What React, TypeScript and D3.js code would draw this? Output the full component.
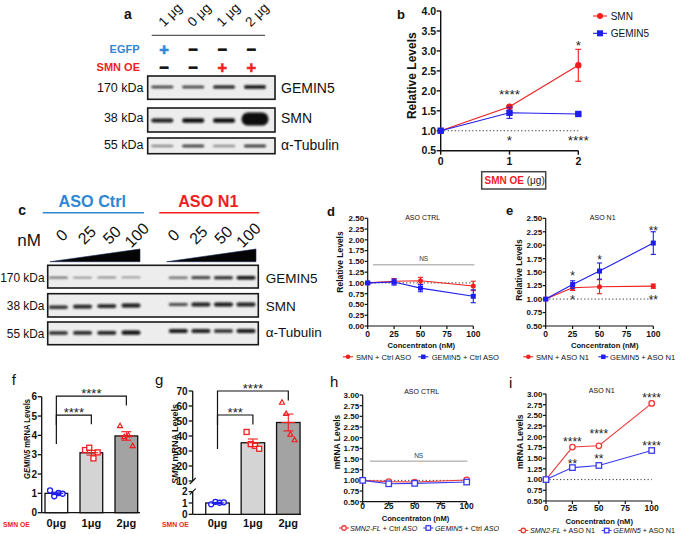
import React from "react";
import * as d3 from "d3";

const FONT = "'Liberation Sans', Arial, Helvetica, sans-serif";
const RED = "#f01e1e";
const BLUE = "#1e1ef0";
const SKY = "#2f86d3";

// ---------------- Panel a (western blot) ----------------
const aLaneLabels = ["1 μg", "0 μg", "1 μg", "2 μg"];
const aEGFP = ["+", "−", "−", "−"];
const aSMNOE = ["−", "−", "+", "+"];
const aRows = ["GEMIN5", "SMN", "α-Tubulin"];
const aKDa = ["170 kDa", "38 kDa", "55 kDa"];
const aGemin5Band = [0.75, 0.75, 0.95, 1.0];
const aSmnBand = [0.9, 1.0, 1.0, 3.0];
const aTubulinBand = [0.55, 0.8, 0.5, 0.85];

// ---------------- Panel b ----------------
const bDose = [0, 1, 2];
const bSMN = [1.0, 1.6, 2.64];
const bSMNErr = [0.02, 0.03, 0.4];
const bGEMIN5 = [1.0, 1.45, 1.42];
const bGEMIN5Err = [0.02, 0.14, 0.03];
const bYTicks = [0.5, 1.0, 1.5, 2.0, 2.5, 3.0, 3.5, 4.0];
const bStars = [
  { x: 1, v: 2.01, t: "****" },
  { x: 1, v: 0.85, t: "*" },
  { x: 2, v: 3.23, t: "*" },
  { x: 2, v: 0.85, t: "****" },
];

// ---------------- Panel c (western blot) ----------------
const cConc = ["0", "25", "50", "100"];
const cRows = ["GEMIN5", "SMN", "α-Tubulin"];
const cKDa = ["170 kDa", "38 kDa", "55 kDa"];
const cGemin5Ctrl = [0.55, 0.45, 0.42, 0.42];
const cGemin5N1 = [0.6, 0.85, 0.95, 1.1];
const cSmnCtrl = [0.85, 0.95, 0.95, 1.0];
const cSmnN1 = [0.7, 0.95, 1.0, 0.95];
const cTubCtrl = [0.9, 0.9, 0.95, 1.05];
const cTubN1 = [1.0, 0.95, 0.9, 1.0];

// ---------------- Panel d ----------------
const conc = [0, 25, 50, 100];
const concTicks = [0, 25, 50, 75, 100];
const dSMN = [1.0, 1.04, 1.05, 0.93];
const dSMNErr = [0.02, 0.06, 0.08, 0.11];
const dGEMIN5 = [1.0, 1.02, 0.88, 0.69];
const dGEMIN5Err = [0.02, 0.07, 0.085, 0.15];

// ---------------- Panel e ----------------
const eSMN = [1.0, 1.21, 1.23, 1.24];
const eSMNErr = [0.02, 0.05, 0.13, 0.04];
const eGEMIN5 = [1.0, 1.27, 1.52, 2.04];
const eGEMIN5Err = [0.02, 0.07, 0.15, 0.21];
const eStars = [
  { x: 25, v: 1.49, t: "*" },
  { x: 25, v: 1.04, t: "*" },
  { x: 50, v: 1.79, t: "*" },
  { x: 100, v: 2.33, t: "**" },
  { x: 100, v: 1.04, t: "**" },
];

// ---------------- Panel f ----------------
const doseGroups = ["0μg", "1μg", "2μg"];
const fMeans = [1.0, 3.1, 3.97];
const fSEM = [0.06, 0.12, 0.22];
const fPts0 = [1.15, 0.85, 1.02, 0.98];
const fPts1 = [3.24, 3.36, 2.81, 3.12];
const fPts2 = [4.5, 3.93, 4.02, 3.47];
const fYTicks = [0, 1, 2, 3, 4, 5, 6];
const fBrackets = [
  { from: 0, to: 1, v: 5.05, t: "****" },
  { from: 0, to: 2, v: 6.03, t: "****" },
];

// ---------------- Panel g ----------------
const gMeans = [1.0, 35.5, 49.0];
const gSEM = [0.05, 2.5, 5.6];
const gPts0 = [0.88, 1.1, 1.02, 1.06];
const gPts1 = [42.7, 34.6, 33.5, 31.5];
const gPts2 = [62.5, 55.0, 41.3, 37.5];
const gYTicksUpper = [10, 20, 30, 40, 50, 60, 70];
const gYTicksLower = [0, 1, 2];
const gBrackets = [
  { from: 0, to: 1, v: 54, t: "***" },
  { from: 0, to: 2, v: 70, t: "****" },
];

// ---------------- Panel h ----------------
const hSMN2 = [1.0, 0.97, 0.96, 1.01];
const hSMN2Err = [0.02, 0.03, 0.02, 0.04];
const hGEMIN5 = [1.0, 0.92, 0.93, 0.96];
const hGEMIN5Err = [0.02, 0.02, 0.02, 0.02];

// ---------------- Panel i ----------------
const iSMN2 = [1.0, 1.76, 1.79, 2.78];
const iSMN2Err = [0.02, 0.03, 0.03, 0.05];
const iGEMIN5 = [1.0, 1.28, 1.33, 1.68];
const iGEMIN5Err = [0.02, 0.02, 0.03, 0.02];
const iStars = [
  { x: 25, v: 1.96, t: "****" },
  { x: 25, v: 1.43, t: "**" },
  { x: 50, v: 2.14, t: "****" },
  { x: 50, v: 1.55, t: "**" },
  { x: 100, v: 2.98, t: "****" },
  { x: 100, v: 1.86, t: "****" },
];

const tick025 = d3.range(0, 2.501, 0.25);
const tick050 = d3.range(0.5, 2.501, 0.25);
const tick0530 = d3.range(0.5, 3.001, 0.25);

// ---------- helpers ----------
function Marker({ kind, cx, cy, color, size }: any) {
  const h = size / 2;
  if (kind === "circle") return <circle cx={cx} cy={cy} r={h} fill={color} />;
  if (kind === "square")
    return <rect x={cx - h} y={cy - h} width={size} height={size} fill={color} />;
  if (kind === "ocircle")
    return <circle cx={cx} cy={cy} r={h} fill="white" stroke={color} strokeWidth={1.3} />;
  if (kind === "osquare")
    return (
      <rect x={cx - h} y={cy - h} width={size} height={size} fill="white" stroke={color} strokeWidth={1.3} />
    );
  return (
    <path
      d={`M${cx},${cy - h}L${cx + h},${cy + h * 0.8}L${cx - h},${cy + h * 0.8}Z`}
      fill="none"
      stroke={color}
      strokeWidth={1.2}
    />
  );
}

function Star({ x, cy, t, fs = 13 }: any) {
  return (
    <text x={x} y={cy + fs * 0.6} fontSize={fs} textAnchor="middle" fill="#222">
      {t}
    </text>
  );
}

function LineChart({ c }: any) {
  const { x, y } = c;
  const [ymin, ymax] = y.domain();
  const [xmin, xmax] = x.domain();
  const tl = c.tickLen;
  return (
    <g fontFamily={FONT}>
      {c.dotted && (
        <line x1={x(xmin)} x2={x(xmax)} y1={y(1)} y2={y(1)} stroke="#333" strokeWidth={1} strokeDasharray="1.2 2.3" />
      )}
      {c.ns && (
        <g>
          <line x1={x(c.ns.x0)} x2={x(c.ns.x1)} y1={y(c.ns.v)} y2={y(c.ns.v)} stroke="#999" strokeWidth={1} />
          <text x={(x(c.ns.x0) + x(c.ns.x1)) / 2} y={y(c.ns.v) - 3.5} fontSize={6.5} textAnchor="middle" fill="#333">
            NS
          </text>
        </g>
      )}
      <line x1={x(xmin)} x2={x(xmin)} y1={y(ymin)} y2={y(ymax)} stroke="#111" strokeWidth={c.axW} />
      <line x1={x(xmin)} x2={x(xmax)} y1={y(ymin)} y2={y(ymin)} stroke="#111" strokeWidth={c.axW} />
      {c.yTicks.map((t: number, i: number) => (
        <g key={"yt" + i}>
          <line x1={x(xmin) - tl} x2={x(xmin)} y1={y(t)} y2={y(t)} stroke="#111" strokeWidth={c.axW} />
          <text x={x(xmin) - tl - 0.5} y={y(t) + c.fs * 0.36} fontSize={c.fs} fontWeight="bold" textAnchor="end" fill="#111">
            {c.yFmt(t)}
          </text>
        </g>
      ))}
      {c.xTicks.map((t: number, i: number) => (
        <g key={"xt" + i}>
          <line x1={x(t)} x2={x(t)} y1={y(ymin)} y2={y(ymin) + tl} stroke="#111" strokeWidth={c.axW} />
          <text x={x(t)} y={c.xLabY} fontSize={c.xfs || c.fs} fontWeight="bold" textAnchor="middle" fill="#111">
            {t}
          </text>
        </g>
      ))}
      {c.series.map((s: any, si: number) => (
        <g key={"s" + si}>
          <path
            d={d3.line<number>().x((_, i) => x(c.xs[i])).y((v) => y(v))(s.values) || ""}
            fill="none"
            stroke={s.color}
            strokeWidth={1.1}
          />
          {s.values.map((v: number, i: number) => (
            <g key={i} stroke={s.color} strokeWidth={1.1}>
              <line x1={x(c.xs[i])} x2={x(c.xs[i])} y1={y(v - s.errs[i])} y2={y(v + s.errs[i])} />
              <line x1={x(c.xs[i]) - c.cap} x2={x(c.xs[i]) + c.cap} y1={y(v - s.errs[i])} y2={y(v - s.errs[i])} />
              <line x1={x(c.xs[i]) - c.cap} x2={x(c.xs[i]) + c.cap} y1={y(v + s.errs[i])} y2={y(v + s.errs[i])} />
            </g>
          ))}
          {s.values.map((v: number, i: number) => (
            <Marker key={"m" + i} kind={s.marker} cx={x(c.xs[i])} cy={y(v)} color={s.color} size={s.size} />
          ))}
        </g>
      ))}
      {(c.stars || []).map((s: any, i: number) => (
        <Star key={"st" + i} x={x(s.x)} cy={y(s.v)} t={s.t} fs={c.starFs || 13} />
      ))}
      {c.title && (
        <text x={c.title.x} y={c.title.y} fontSize={7} textAnchor="middle" fill="#111">
          {c.title.t}
        </text>
      )}
      <text
        transform={`translate(${c.yTitle.x},${c.yTitle.y}) rotate(-90)`}
        fontSize={c.yTitle.fs}
        fontWeight="bold"
        textAnchor="middle"
        fill="#111"
      >
        {c.yTitle.t}
      </text>
      {c.xTitle && (
        <text x={c.xTitle.x} y={c.xTitle.y} fontSize={c.xTitle.fs} fontWeight="bold" textAnchor="middle" fill="#111">
          {c.xTitle.t}
        </text>
      )}
      {(c.legend || []).map((l: any, i: number) => (
        <g key={"lg" + i}>
          <line x1={l.mx - l.lw} x2={l.mx + l.lw} y1={l.my} y2={l.my} stroke={l.color} strokeWidth={1.1} />
          <Marker kind={l.marker} cx={l.mx} cy={l.my} color={l.color} size={l.size} />
          <text x={l.tx} y={l.ty} fontSize={l.fs} fill="#111">
            {l.content}
          </text>
        </g>
      ))}
    </g>
  );
}

function Band({ cx, cy, w, h, op }: any) {
  return (
    <rect
      x={cx - w / 2}
      y={cy - h / 2}
      width={w}
      height={h}
      rx={Math.min(h / 2, w / 2)}
      fill="#0a0a0a"
      opacity={op}
      filter="url(#bandBlur)"
    />
  );
}

function BarPanel({ p }: any) {
  const { xc, yv, bw } = p;
  return (
    <g fontFamily={FONT}>
      {p.means.map((m: number, i: number) => (
        <rect
          key={"b" + i}
          x={xc(p.groups[i]) - bw / 2}
          y={yv(m)}
          width={bw}
          height={yv(0) - yv(m)}
          fill={p.fills[i]}
          stroke="#111"
          strokeWidth={1.3}
        />
      ))}
      {p.pts.map((arr: number[], gi: number) =>
        arr.map((v: number, k: number) => (
          <Marker
            key={"p" + gi + "_" + k}
            kind={p.ptKinds[gi]}
            cx={xc(p.groups[gi]) + (k - (arr.length - 1) / 2) * 4.2}
            cy={yv(v)}
            color={p.ptColors[gi]}
            size={p.ptSize}
          />
        ))
      )}
      {p.means.map((m: number, i: number) => (
        <g key={"e" + i} stroke={p.ptColors[i]} strokeWidth={1.1}>
          <line x1={xc(p.groups[i])} x2={xc(p.groups[i])} y1={yv(m - p.sem[i])} y2={yv(m + p.sem[i])} />
          <line x1={xc(p.groups[i]) - 5} x2={xc(p.groups[i]) + 5} y1={yv(m + p.sem[i])} y2={yv(m + p.sem[i])} />
          <line x1={xc(p.groups[i]) - 5} x2={xc(p.groups[i]) + 5} y1={yv(m - p.sem[i])} y2={yv(m - p.sem[i])} />
          <line x1={xc(p.groups[i]) - 7} x2={xc(p.groups[i]) + 7} y1={yv(m)} y2={yv(m)} />
        </g>
      ))}
      {p.brackets.map((b: any, i: number) => {
        const x0 = xc(p.groups[b.from]);
        const x1 = xc(p.groups[b.to]);
        const yy = yv(b.v);
        return (
          <g key={"br" + i}>
            <path
              d={`M${x0},${yy + p.leftDrop}V${yy}H${x1}V${yy + p.rightDrop}`}
              fill="none"
              stroke="#111"
              strokeWidth={1.2}
            />
            <Star x={(x0 + x1) / 2} cy={yy - 5.5} t={b.t} fs={13} />
          </g>
        );
      })}
      {p.groups.map((g: string, i: number) => (
        <text key={"xl" + i} x={xc(g)} y={p.xLabY} fontSize={11} fontWeight="bold" textAnchor="middle" fill="#111">
          {g}
        </text>
      ))}
      <text x={p.oeX} y={p.xLabY} fontSize={6.8} fontWeight="bold" fill={RED}>
        SMN OE
      </text>
    </g>
  );
}

export default function App() {
  // ---------- panel a ----------
  const aLane = d3.scalePoint<number>().domain(d3.range(4)).range([162.3, 255]);
  const aLabelX = d3.scalePoint<number>().domain(d3.range(4)).range([170, 256.7]);
  const aSignX = d3.scalePoint<number>().domain(d3.range(4)).range([164, 251.3]);
  const aRowGeo = [
    { y0: 76, y1: 99.3, by: 87, base: 3.4, vals: aGemin5Band },
    { y0: 108, y1: 132, by: 120.5, base: 4.4, vals: aSmnBand },
    { y0: 138, y1: 153.7, by: 146, base: 3.0, vals: aTubulinBand },
  ];
  const aLabelBase = [92.3, 121.7, 149];
  const aRightBase = [92.7, 122.7, 150];

  // ---------- panel b ----------
  const bx = d3.scaleLinear().domain([0, 2]).range([440.7, 578.3]);
  const by = d3.scaleLinear().domain([0.5, 4]).range([150.7, 11]);

  // ---------- panel c ----------
  const cLaneCtrl = d3.scalePoint<number>().domain(d3.range(4)).range([58.3, 131]);
  const cLaneN1 = d3.scalePoint<number>().domain(d3.range(4)).range([178.3, 246]);
  const cLabCtrl = d3.scalePoint<number>().domain(d3.range(4)).range([61.7, 136.7]);
  const cLabN1 = d3.scalePoint<number>().domain(d3.range(4)).range([173.3, 248.3]);
  const cRowGeo = [
    { y0: 265.3, y1: 288, byC: 277.7, byN: 277.7, base: 3.2, ctrl: cGemin5Ctrl, n1: cGemin5N1 },
    { y0: 293.7, y1: 317, byC: 307.3, byN: 304.5, base: 4.0, ctrl: cSmnCtrl, n1: cSmnN1 },
    { y0: 322, y1: 344.7, byC: 333, byN: 331, base: 4.0, ctrl: cTubCtrl, n1: cTubN1 },
  ];
  const cLabelBase = [282.3, 310, 337.7];
  const cRightBase = [283.3, 310.7, 336.7];

  // ---------- panels d, e, h, i ----------
  const fmt2 = (v: number) => v.toFixed(2);
  const dCfg = {
    x: d3.scaleLinear().domain([0, 100]).range([367.7, 473.3]),
    y: d3.scaleLinear().domain([0, 2.5]).range([326, 218.3]),
    xs: conc,
    yTicks: tick025,
    yFmt: fmt2,
    xTicks: concTicks,
    fs: 8,
    xfs: 8.5,
    xLabY: 336.7,
    tickLen: 3,
    axW: 1.2,
    cap: 2.6,
    dotted: true,
    ns: { x0: 5, x1: 101, v: 1.42 },
    series: [
      { values: dSMN, errs: dSMNErr, color: RED, marker: "circle", size: 5 },
      { values: dGEMIN5, errs: dGEMIN5Err, color: BLUE, marker: "square", size: 5 },
    ],
    title: { t: "ASO CTRL", x: 422.7, y: 220 },
    yTitle: { t: "Relative Levels", x: 343, y: 262, fs: 8.5 },
    xTitle: { t: "Concentraton (nM)", x: 421.3, y: 348, fs: 7.6 },
    legend: [
      { mx: 348, my: 356.8, lw: 5, color: RED, marker: "circle", size: 4.5, tx: 356, ty: 359.5, fs: 7.6, content: "SMN + Ctrl ASO" },
      { mx: 423.3, my: 356.8, lw: 5, color: BLUE, marker: "square", size: 4.5, tx: 431.7, ty: 359.5, fs: 7.6, content: "GEMIN5 + Ctrl ASO" },
    ],
  };
  const eCfg = {
    ...dCfg,
    x: d3.scaleLinear().domain([0, 100]).range([545.7, 653.3]),
    y: d3.scaleLinear().domain([0.5, 2.5]).range([326, 218.3]),
    yTicks: tick050,
    ns: null,
    series: [
      { values: eSMN, errs: eSMNErr, color: RED, marker: "circle", size: 5 },
      { values: eGEMIN5, errs: eGEMIN5Err, color: BLUE, marker: "square", size: 5 },
    ],
    stars: eStars,
    starFs: 12,
    title: { t: "ASO N1", x: 602.7, y: 220 },
    yTitle: { t: "Relative Levels", x: 522, y: 270, fs: 8.5 },
    xTitle: { t: "Concentraton (nM)", x: 604.7, y: 348, fs: 7.6 },
    legend: [
      { mx: 528.3, my: 356.8, lw: 5, color: RED, marker: "circle", size: 4.5, tx: 536, ty: 359.5, fs: 7.6, content: "SMN + ASO N1" },
      { mx: 603.3, my: 356.8, lw: 5, color: BLUE, marker: "square", size: 4.5, tx: 610, ty: 359.5, fs: 7.6, content: "GEMIN5 + ASO N1" },
    ],
  };
  const LRED = "#f03a3a";
  const LBLUE = "#3a3af0";
  const hCfg = {
    x: d3.scaleLinear().domain([0, 100]).range([362.7, 466.7]),
    y: d3.scaleLinear().domain([0.5, 3]).range([501.7, 395]),
    xs: conc,
    yTicks: tick0530,
    yFmt: fmt2,
    xTicks: concTicks,
    fs: 8,
    xfs: 8.5,
    xLabY: 509,
    tickLen: 3,
    axW: 1.2,
    cap: 2.6,
    dotted: true,
    ns: { x0: 7, x1: 100.6, v: 1.45 },
    series: [
      { values: hSMN2, errs: hSMN2Err, color: LRED, marker: "ocircle", size: 5.5 },
      { values: hGEMIN5, errs: hGEMIN5Err, color: LBLUE, marker: "osquare", size: 5.5 },
    ],
    title: { t: "ASO CTRL", x: 421.7, y: 394 },
    yTitle: { t: "mRNA Levels", x: 339.5, y: 442, fs: 8.5 },
    xTitle: { t: "Concentraton (nM)", x: 415.5, y: 521, fs: 7.6 },
    legend: [
      {
        mx: 344, my: 528, lw: 5, color: LRED, marker: "ocircle", size: 4.5, tx: 350, ty: 530.5, fs: 7.2,
        content: (<><tspan fontStyle="italic">SMN2-FL</tspan> + Ctrl <tspan fontStyle="italic">ASO</tspan></>),
      },
      {
        mx: 428.3, my: 528, lw: 5, color: LBLUE, marker: "osquare", size: 4.5, tx: 435, ty: 530.5, fs: 7.2,
        content: (<><tspan fontStyle="italic">GEMIN5</tspan> + Ctrl <tspan fontStyle="italic">ASO</tspan></>),
      },
    ],
  };
  const iCfg = {
    ...hCfg,
    x: d3.scaleLinear().domain([0, 100]).range([546, 651.7]),
    y: d3.scaleLinear().domain([0.5, 3]).range([501, 394]),
    xLabY: 511,
    ns: null,
    series: [
      { values: iSMN2, errs: iSMN2Err, color: LRED, marker: "ocircle", size: 5.5 },
      { values: iGEMIN5, errs: iGEMIN5Err, color: LBLUE, marker: "osquare", size: 5.5 },
    ],
    stars: iStars,
    starFs: 12,
    title: { t: "ASO N1", x: 601.7, y: 393.3 },
    yTitle: { t: "mRNA Levels", x: 523, y: 441.7, fs: 8.5 },
    xTitle: { t: "Concentraton (nM)", x: 599.2, y: 524, fs: 7.6 },
    legend: [
      {
        mx: 523.3, my: 530.5, lw: 5, color: LRED, marker: "ocircle", size: 4.5, tx: 530, ty: 533, fs: 7.2,
        content: (<><tspan fontStyle="italic">SMN2-FL</tspan> + ASO N1</>),
      },
      {
        mx: 606.7, my: 530.5, lw: 5, color: LBLUE, marker: "osquare", size: 4.5, tx: 613.3, ty: 533, fs: 7.2,
        content: (<><tspan fontStyle="italic">GEMIN5</tspan> + ASO N1</>),
      },
    ],
  };

  // ---------- panel f ----------
  const fx = d3.scalePoint<string>().domain(doseGroups).range([56.35, 126.35]);
  const fy = d3.scaleLinear().domain([0, 6]).range([512.7, 396.7]);
  const fP = {
    xc: fx, yv: fy, bw: 22.7, groups: doseGroups, means: fMeans, sem: fSEM,
    fills: ["#ffffff", "#d4d4d4", "#a3a3a3"],
    pts: [fPts0, fPts1, fPts2], ptKinds: ["ocircle", "osquare", "otriangle"],
    ptColors: [BLUE, RED, RED], ptSize: 5,
    brackets: fBrackets, leftDrop: 29, rightDrop: 9.3, xLabY: 527, oeX: 3,
  };
  // ---------- panel g (broken axis) ----------
  const gyU = d3.scaleLinear().domain([10, 70]).range([481, 391]);
  const gyL = d3.scaleLinear().domain([0, 2]).range([514.3, 491.7]);
  const gy = (v: number) => (v <= 2 ? gyL(v) : gyU(v));
  const gx = d3.scalePoint<string>().domain(doseGroups).range([217.5, 288.3]);
  const gP = {
    xc: gx, yv: gy, bw: 23.5, groups: doseGroups, means: gMeans, sem: gSEM,
    fills: ["#ffffff", "#d4d4d4", "#a3a3a3"],
    pts: [gPts0, gPts1, gPts2], ptKinds: ["ocircle", "osquare", "otriangle"],
    ptColors: [BLUE, RED, RED], ptSize: 5,
    brackets: gBrackets, leftDrop: 34, rightDrop: 9.5, xLabY: 527, oeX: 162,
  };
  const gAxX = 192.7;

  return (
    <svg
      width={685}
      height={534}
      viewBox="0 0 685 534"
      style={{ position: "absolute", left: 0, top: 0, background: "#fff" }}
      fontFamily={FONT}
    >
      <defs>
        <filter id="bandBlur" x="-30%" y="-100%" width="160%" height="300%">
          <feGaussianBlur stdDeviation="0.8" />
        </filter>
      </defs>
      <rect x={0} y={0} width={685} height={534} fill="#fff" />

      {/* ================= a ================= */}
      <text x={124} y={18.5} fontSize={14} fontWeight="bold" fill="#111">a</text>
      {aLaneLabels.map((l, i) => (
        <text
          key={"al" + i}
          transform={`translate(${aLabelX(i)! + 3.5},${18}) rotate(-45)`}
          fontSize={13.5}
          textAnchor="middle"
          fill="#111"
        >
          {l}
        </text>
      ))}
      <line x1={151.7} x2={265} y1={35.3} y2={35.3} stroke="#333" strokeWidth={1} />
      <text x={139.5} y={52.5} fontSize={11} fontWeight="bold" textAnchor="end" fill={SKY}>EGFP</text>
      <text x={140} y={70.7} fontSize={11} fontWeight="bold" textAnchor="end" fill={RED}>SMN OE</text>
      {aEGFP.map((s, i) => (
        <text key={"eg" + i} x={aSignX(i)} y={49 + 5.8} fontSize={16.5} fontWeight="bold" textAnchor="middle"
          stroke={s === "+" ? SKY : "#111"} strokeWidth={0.6}
          fill={s === "+" ? SKY : "#111"}>{s}</text>
      ))}
      {aSMNOE.map((s, i) => (
        <text key={"oe" + i} x={aSignX(i)} y={66.7 + 5.8} fontSize={16.5} fontWeight="bold" textAnchor="middle"
          stroke={s === "+" ? RED : "#111"} strokeWidth={0.6}
          fill={s === "+" ? RED : "#111"}>{s}</text>
      ))}
      {aRowGeo.map((r, ri) => (
        <g key={"ar" + ri}>
          <rect x={147.7} y={r.y0} width={127.3} height={r.y1 - r.y0} fill="#ededed" stroke="#1a1a1a" strokeWidth={1.6} />
          {r.vals.map((v, li) => (
            <Band key={li} cx={aLane(li)} cy={r.by - (v > 2 ? 1.5 : 0)} w={v > 2 ? 27 : 22} h={r.base * Math.min(v, 3)}
              op={Math.min(1, 0.3 + 0.7 * v)} />
          ))}
          <text x={143.5} y={aLabelBase[ri]} fontSize={12.5} textAnchor="end" fill="#111">{aKDa[ri]}</text>
          <text x={281} y={aRightBase[ri]} fontSize={14} fill="#111">{aRows[ri]}</text>
        </g>
      ))}

      {/* ================= b ================= */}
      <text x={397} y={19.3} fontSize={13} fontWeight="bold" fill="#111">b</text>
      <LineChart
        c={{
          x: bx, y: by, xs: bDose, yTicks: bYTicks, yFmt: (v: number) => v.toFixed(1), xTicks: bDose,
          fs: 10.5, xLabY: 164.5, tickLen: 4, axW: 1.4, cap: 3, dotted: true,
          series: [
            { values: bSMN, errs: bSMNErr, color: RED, marker: "circle", size: 6.4 },
            { values: bGEMIN5, errs: bGEMIN5Err, color: BLUE, marker: "square", size: 6.4 },
          ],
          stars: bStars, starFs: 13.5,
          yTitle: { t: "Relative Levels", x: 415.5, y: 75.7, fs: 12 },
          legend: [
            { mx: 600, my: 16, lw: 7, color: RED, marker: "circle", size: 6, tx: 610.7, ty: 19.5, fs: 10, content: "SMN" },
            { mx: 600, my: 33.3, lw: 7, color: BLUE, marker: "square", size: 6, tx: 610.7, ty: 36.8, fs: 10, content: "GEMIN5" },
          ],
        }}
      />
      <rect x={481.7} y={171.7} width={64} height={17.3} fill="none" stroke="#444" strokeWidth={1.5} />
      <text x={484.5} y={184} fontSize={10}>
        <tspan fill={RED} fontWeight="bold">SMN OE</tspan>
        <tspan fill="#222"> (μg)</tspan>
      </text>

      {/* ================= c ================= */}
      <text x={18.3} y={215} fontSize={14} fontWeight="bold" fill="#111">c</text>
      <text x={92.3} y={207.3} fontSize={16.2} fontWeight="bold" textAnchor="middle" fill={SKY}>ASO Ctrl</text>
      <line x1={42.7} x2={144} y1={212.7} y2={212.7} stroke={SKY} strokeWidth={1.6} />
      <text x={208.3} y={207.3} fontSize={16.2} fontWeight="bold" textAnchor="middle" fill={RED}>ASO N1</text>
      <line x1={159.3} x2={259.3} y1={212.7} y2={212.7} stroke={RED} strokeWidth={1.6} />
      <text x={17.3} y={246} fontSize={17} fill="#111">nM</text>
      {cConc.map((l, i) => (
        <g key={"cl" + i}>
          <text transform={`translate(${cLabCtrl(i)! + 4},${239}) rotate(-45)`} fontSize={16} textAnchor="middle" fill="#111">{l}</text>
          <text transform={`translate(${cLabN1(i)! + 4},${239}) rotate(-45)`} fontSize={16} textAnchor="middle" fill="#111">{l}</text>
        </g>
      ))}
      <path d="M50,261.7L140,249L140,261.7Z" fill="#050505" stroke="#1b2a55" strokeWidth={0.6} />
      <path d="M166.7,261.7L256,249L256,261.7Z" fill="#050505" stroke="#1b2a55" strokeWidth={0.6} />
      {cRowGeo.map((r, ri) => (
        <g key={"cr" + ri}>
          <rect x={47.7} y={r.y0} width={210.6} height={r.y1 - r.y0} fill="#ededed" stroke="#1a1a1a" strokeWidth={1.6} />
          {r.ctrl.map((v, li) => (
            <Band key={"c" + li} cx={cLaneCtrl(li)} cy={r.byC - li * (ri === 1 ? 0.6 : 0.1)} w={19} h={r.base * v}
              op={Math.min(1, 0.25 + 0.7 * v)} />
          ))}
          {r.n1.map((v, li) => (
            <Band key={"n" + li} cx={cLaneN1(li)} cy={r.byN} w={19} h={r.base * v} op={Math.min(1, 0.25 + 0.7 * v)} />
          ))}
          <text x={44.5} y={cLabelBase[ri]} fontSize={11.9} textAnchor="end" fill="#111">{cKDa[ri]}</text>
          <text x={265.7} y={cRightBase[ri]} fontSize={13.5} fill="#111">{cRows[ri]}</text>
        </g>
      ))}

      {/* ================= d, e ================= */}
      <text x={327} y={215.7} fontSize={13} fontWeight="bold" fill="#111">d</text>
      <LineChart c={dCfg} />
      <text x={506} y={215} fontSize={13} fontWeight="bold" fill="#111">e</text>
      <LineChart c={eCfg} />

      {/* ================= f ================= */}
      <text x={11.7} y={385} fontSize={15} fill="#111">f</text>
      <line x1={41.7} x2={41.7} y1={fy(0)} y2={fy(6)} stroke="#111" strokeWidth={1.3} />
      <line x1={41.7} x2={140} y1={fy(0)} y2={fy(0)} stroke="#111" strokeWidth={1.3} />
      {fYTicks.map((t) => (
        <g key={"fy" + t}>
          <line x1={37.7} x2={41.7} y1={fy(t)} y2={fy(t)} stroke="#111" strokeWidth={1.3} />
          <text x={37} y={fy(t) + 3.6} fontSize={10} fontWeight="bold" textAnchor="end" fill="#111">{t}</text>
        </g>
      ))}
      <text transform="translate(29.5,439) rotate(-90)" fontSize={9.5} fontWeight="bold" textAnchor="middle" fill="#111"
        textLength={80} lengthAdjust="spacingAndGlyphs">
        <tspan fontStyle="italic">GEMIN5</tspan> mRNA Levels
      </text>
      <BarPanel p={fP} />

      {/* ================= g ================= */}
      <text x={155} y={385} fontSize={15} fill="#111">g</text>
      <line x1={gAxX} x2={gAxX} y1={gyU(10)} y2={gyU(70)} stroke="#111" strokeWidth={1.3} />
      <line x1={gAxX} x2={gAxX} y1={gyL(0)} y2={gyL(2)} stroke="#111" strokeWidth={1.3} />
      <line x1={gAxX - 3} x2={gAxX + 3} y1={gyU(10) + 3} y2={gyU(10) - 3} stroke="#111" strokeWidth={1.1} />
      <line x1={gAxX - 3} x2={gAxX + 3} y1={gyL(2) + 3} y2={gyL(2) - 3} stroke="#111" strokeWidth={1.1} />
      <line x1={gAxX} x2={301} y1={gyL(0)} y2={gyL(0)} stroke="#111" strokeWidth={1.3} />
      {gYTicksUpper.map((t) => (
        <g key={"gu" + t}>
          <line x1={gAxX - 4} x2={gAxX} y1={gyU(t)} y2={gyU(t)} stroke="#111" strokeWidth={1.3} />
          <text x={gAxX - 5.2} y={gyU(t) + 3.6} fontSize={10} fontWeight="bold" textAnchor="end" fill="#111">{t}</text>
        </g>
      ))}
      {gYTicksLower.map((t) => (
        <g key={"gl" + t}>
          <line x1={gAxX - 4} x2={gAxX} y1={gyL(t)} y2={gyL(t)} stroke="#111" strokeWidth={1.3} />
          <text x={gAxX - 5.2} y={gyL(t) + 3.6} fontSize={10} fontWeight="bold" textAnchor="end" fill="#111">{t}</text>
        </g>
      ))}
      <text transform="translate(178,444) rotate(-90)" fontSize={9.5} fontWeight="bold" textAnchor="middle" fill="#111"
        textLength={80} lengthAdjust="spacingAndGlyphs">
        <tspan fontStyle="italic">SMN</tspan> mRNA Levels
      </text>
      <BarPanel p={gP} />

      {/* ================= h, i ================= */}
      <text x={330} y={386.7} fontSize={15} fill="#111">h</text>
      <LineChart c={hCfg} />
      <text x={509} y={388} fontSize={15} fill="#111">i</text>
      <LineChart c={iCfg} />
    </svg>
  );
}
